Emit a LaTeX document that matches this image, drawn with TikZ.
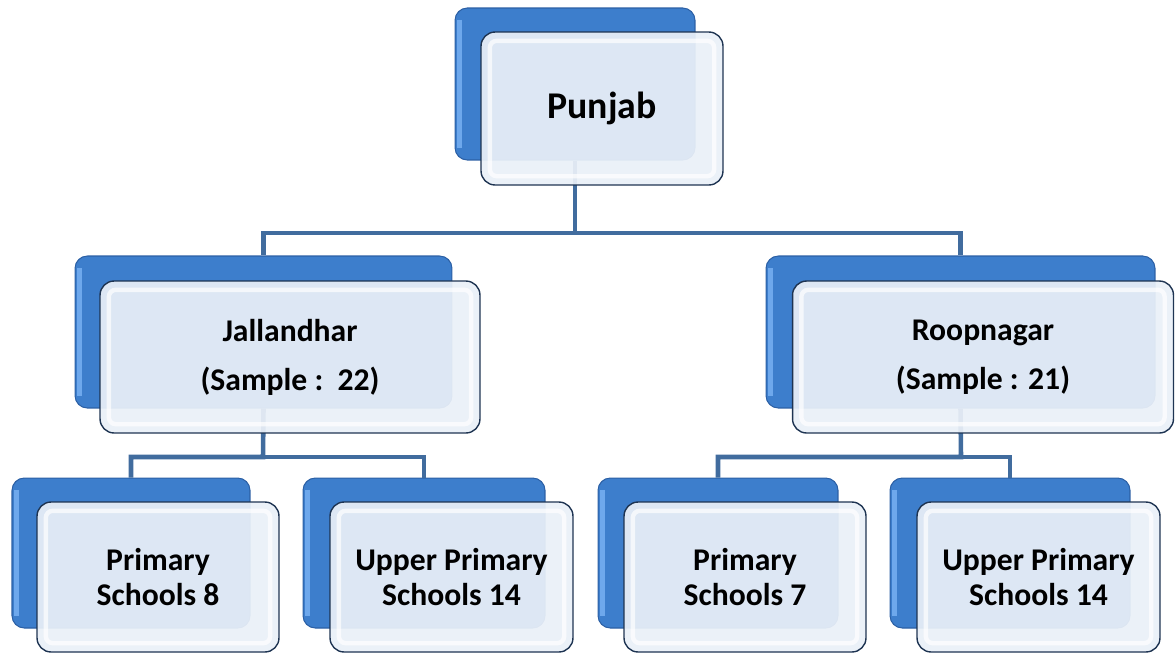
\documentclass[tikz,border=0pt]{standalone}
\usepackage{fontspec}
\setmainfont{Carlito}
\usetikzlibrary{positioning}

\definecolor{boxblue}{RGB}{61,126,204}
\definecolor{boxedge}{RGB}{44,96,165}
\definecolor{boxlight}{RGB}{110,168,236}
\definecolor{frontfill}{RGB}{234,240,248}
\definecolor{frontedge}{RGB}{30,52,82}
\definecolor{linkblue}{RGB}{65,108,158}

\tikzset{
  backbox/.style={rectangle, rounded corners=7pt, draw=boxedge, line width=0.6pt,
    fill=boxblue, inner sep=0pt,
    path picture={\draw[boxlight, line width=3pt]
      ([shift={(2.5pt,-7pt)}]path picture bounding box.north west) --
      ([shift={(2.5pt,7pt)}]path picture bounding box.south west);}},
  frontbox/.style={rectangle, rounded corners=8pt, draw=frontedge, line width=0.8pt,
    fill=frontfill, fill opacity=0.93, text opacity=1, inner sep=0pt, align=center,
    font=\fontsize{18}{20}\selectfont\bfseries,
    path picture={\draw[white, line width=2.5pt, rounded corners=4pt, opacity=0.7]
      ([shift={(5pt,-5pt)}]path picture bounding box.north west) rectangle
      ([shift={(-5pt,5pt)}]path picture bounding box.south east);}},
  bigtext/.style={font=\fontsize{21.5}{24}\selectfont\bfseries},
  link/.style={draw=linkblue, line width=2.6pt}
}

\begin{document}
\begin{tikzpicture}[x=0.02cm, y=-0.02cm]
  \useasboundingbox (0,0) rectangle (1175,653);

  % back boxes
  \node[backbox, minimum width=4.8cm, minimum height=3.04cm] (punjabB) at (575,84) {};
  \node[backbox, minimum width=7.54cm, minimum height=3.04cm] (jalB) at (263.5,332) {};
  \node[backbox, minimum width=7.78cm, minimum height=3.04cm] (roopB) at (960.5,332) {};
  \node[backbox, minimum width=4.76cm, minimum height=3cm] (prim1B) at (131,553) {};
  \node[backbox, minimum width=4.84cm, minimum height=3cm] (upper1B) at (424,553) {};
  \node[backbox, minimum width=4.8cm, minimum height=3cm] (prim2B) at (718,553) {};
  \node[backbox, minimum width=4.8cm, minimum height=3cm] (upper2B) at (1010,553) {};

  % connectors
  \coordinate (split1) at (575,233);
  \coordinate (split2) at (263,457);
  \coordinate (split3) at (961,457);
  \draw[link] (punjabB.south) -- (split1) -| (jalB.north);
  \draw[link] (split1) -| (roopB.north);
  \draw[link] (jalB.south) -- (split2) -| (prim1B.north);
  \draw[link] (split2) -| (upper1B.north);
  \draw[link] (roopB.south) -- (split3) -| (prim2B.north);
  \draw[link] (split3) -| (upper2B.north);

  % front boxes
  \node[frontbox, bigtext, minimum width=4.84cm, minimum height=3.06cm] (punjab) at (602,108.5) {Punjab};
  \node[frontbox, minimum width=7.6cm, minimum height=3.04cm] (jal) at (290,357)
    {Jallandhar\\[8pt](Sample :\ \ 22)};
  \node[frontbox, minimum width=7.62cm, minimum height=3.04cm] (roop) at (983,357)
    {Roopnagar\\[8pt](Sample : 21)};
  \node[frontbox, minimum width=4.84cm, minimum height=3cm] (prim1) at (158,577) {Primary\\Schools 8};
  \node[frontbox, minimum width=4.86cm, minimum height=3cm] (upper1) at (451.5,577) {Upper Primary\\Schools 14};
  \node[frontbox, minimum width=4.84cm, minimum height=3cm] (prim2) at (745,577) {Primary\\Schools 7};
  \node[frontbox, minimum width=4.86cm, minimum height=3cm] (upper2) at (1038.5,577) {Upper Primary\\Schools 14};
\end{tikzpicture}
\end{document}
